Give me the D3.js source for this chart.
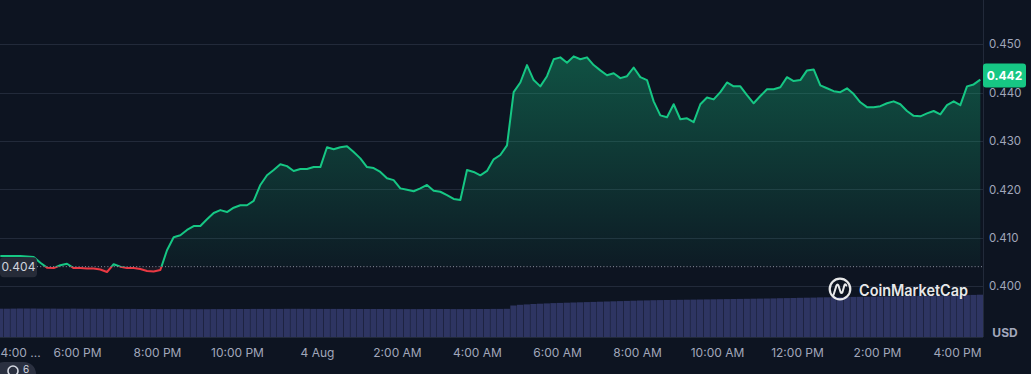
<!DOCTYPE html>
<html>
<head>
<meta charset="utf-8">
<script src="https://cdn.jsdelivr.net/npm/d3@7"></script>
<style>
  html, body { margin: 0; padding: 0; background: #0d1421; }
  svg { display: block; font-family: Inter, "Noto Sans", sans-serif; }
</style>
</head>
<body>
<svg id="chart" width="1031" height="374"></svg>
<script>
// ---------- data ----------
const startTime = new Date(2023, 7, 3, 16, 5);   // first sample, 4:05 PM 3 Aug
const stepMinutes = 10;                           // sampling step of the series
const prices = [
  0.4062, 0.4062, 0.4062, 0.4062, 0.4061, 0.4060, 0.4048, 0.4038, 0.4037, 0.4043,
  0.4046, 0.4037, 0.4037, 0.4036, 0.4036, 0.4034, 0.4029, 0.4045, 0.4040, 0.4037,
  0.4037, 0.4035, 0.4031, 0.4030, 0.4033, 0.4074, 0.4101, 0.4105, 0.4116, 0.4124,
  0.4124, 0.4138, 0.4151, 0.4157, 0.4153, 0.4162, 0.4167, 0.4167, 0.4176, 0.4209,
  0.4229, 0.4240, 0.4252, 0.4248, 0.4238, 0.4242, 0.4242, 0.4246, 0.4246, 0.4287,
  0.4283, 0.4287, 0.4289, 0.4277, 0.4264, 0.4246, 0.4244, 0.4236, 0.4223, 0.4219,
  0.4202, 0.4199, 0.4196, 0.4202, 0.4209, 0.4197, 0.4195, 0.4188, 0.4180, 0.4178,
  0.4240, 0.4236, 0.4229, 0.4238, 0.4262, 0.4271, 0.4291, 0.4401, 0.4421, 0.4457,
  0.4426, 0.4413, 0.4434, 0.4469, 0.4473, 0.4462, 0.4475, 0.4469, 0.4473, 0.4457,
  0.4446, 0.4436, 0.4440, 0.4430, 0.4434, 0.4452, 0.4432, 0.4426, 0.4382, 0.4353,
  0.4349, 0.4376, 0.4345, 0.4347, 0.4339, 0.4376, 0.4390, 0.4386, 0.4401, 0.4421,
  0.4413, 0.4413, 0.4395, 0.4378, 0.4393, 0.4407, 0.4407, 0.4411, 0.4432, 0.4424,
  0.4426, 0.4446, 0.4448, 0.4415, 0.4409, 0.4403, 0.4401, 0.4409, 0.4397, 0.4380,
  0.4370, 0.4370, 0.4372, 0.4378, 0.4382, 0.4376, 0.4362, 0.4352, 0.4351, 0.4357,
  0.4362, 0.4355, 0.4374, 0.4382, 0.4374, 0.4413, 0.4417, 0.4427
];
const volumes = [   // rolling volume, millions USD
  283, 283, 284, 285, 285, 285, 284, 284, 284, 283,
  283, 284, 283, 283, 282, 282, 282, 281, 281, 281,
  281, 280, 280, 280, 279, 279, 279, 279, 278, 278,
  278, 278, 279, 279, 279, 280, 280, 280, 281, 281,
  281, 281, 281, 282, 282, 282, 282, 281, 281, 281,
  281, 281, 281, 280, 280, 280, 280, 280, 280, 279,
  279, 279, 279, 279, 280, 280, 280, 280, 279, 279,
  279, 280, 280, 280, 281, 281, 282, 315, 322, 326,
  330, 333, 336, 339, 341, 343, 345, 347, 349, 351,
  353, 355, 357, 359, 361, 363, 365, 366, 368, 369,
  370, 371, 372, 373, 374, 375, 376, 377, 378, 379,
  380, 381, 382, 383, 384, 385, 386, 388, 389, 390,
  392, 393, 394, 396, 397, 398, 399, 400, 401, 402,
  403, 404, 405, 406, 407, 408, 409, 410, 411, 412,
  413, 414, 415, 416, 418, 419, 421, 423
];
const openPrice = 0.404;
const openLabel = "0.404";
const lastLabel = "0.442";
const yTicks = [0.400, 0.410, 0.420, 0.430, 0.440, 0.450];
const axisStart = new Date(2023, 7, 3, 16, 0);
const axisEnd = new Date(2023, 7, 4, 16, 0);

// ---------- build ----------
const times = prices.map((_, i) => new Date(startTime.getTime() + i * stepMinutes * 60000));
const data = prices.map((p, i) => ({ t: times[i], p: p, v: volumes[i] }));

const W = 1031, H = 374;
const plotRight = 983;
const volBottom = 337;
const green = "#16c784", red = "#ea3943";
const gridColor = "#222a3a";
const labelColor = "#a1a7bb";

const svg = d3.select("#chart");
svg.append("rect").attr("width", W).attr("height", H).attr("fill", "#0d1421");

const x = d3.scaleTime().domain([axisStart, axisEnd]).range([-3, 957]);
const y = d3.scaleLinear().domain([0.400, 0.450]).range([286, 44.3]);
const yv = d3.scaleLinear().domain([0, 500]).range([volBottom, 287]);

const defs = svg.append("defs");
defs.append("clipPath").attr("id", "plotClip")
  .append("rect").attr("x", 0).attr("y", 0).attr("width", plotRight).attr("height", volBottom);
defs.append("clipPath").attr("id", "aboveClip")
  .append("rect").attr("x", 0).attr("y", 0).attr("width", plotRight).attr("height", y(openPrice));
defs.append("clipPath").attr("id", "belowClip")
  .append("rect").attr("x", 0).attr("y", y(openPrice)).attr("width", plotRight).attr("height", volBottom - y(openPrice));

const gGrad = defs.append("linearGradient").attr("id", "gFill")
  .attr("gradientUnits", "userSpaceOnUse").attr("x1", 0).attr("x2", 0)
  .attr("y1", y(0.450)).attr("y2", y(openPrice));
gGrad.append("stop").attr("offset", 0).attr("stop-color", green).attr("stop-opacity", 0.36);
gGrad.append("stop").attr("offset", 1).attr("stop-color", green).attr("stop-opacity", 0.04);
const rGrad = defs.append("linearGradient").attr("id", "rFill")
  .attr("gradientUnits", "userSpaceOnUse").attr("x1", 0).attr("x2", 0)
  .attr("y1", y(openPrice)).attr("y2", y(0.400));
rGrad.append("stop").attr("offset", 0).attr("stop-color", red).attr("stop-opacity", 0.05);
rGrad.append("stop").attr("offset", 1).attr("stop-color", red).attr("stop-opacity", 0.2);

// gridlines
svg.append("g").selectAll("line").data(yTicks).join("line")
  .attr("x1", 0).attr("x2", plotRight)
  .attr("y1", d => Math.round(y(d)) + 0.5).attr("y2", d => Math.round(y(d)) + 0.5)
  .attr("stroke", gridColor).attr("stroke-width", 1);
// right border & bottom line
svg.append("line").attr("x1", plotRight + 0.5).attr("x2", plotRight + 0.5)
  .attr("y1", 0).attr("y2", volBottom).attr("stroke", gridColor);
svg.append("line").attr("x1", 0).attr("x2", plotRight)
  .attr("y1", volBottom + 0.5).attr("y2", volBottom + 0.5).attr("stroke", gridColor);

// volume bars
const stepPx = x(times[1]) - x(times[0]);
const volG = svg.append("g").attr("clip-path", "url(#plotClip)");
volG.selectAll("rect").data(data).join("rect")
  .attr("x", d => x(d.t) - stepPx / 2)
  .attr("width", stepPx - 0.4)
  .attr("y", d => yv(d.v))
  .attr("height", d => volBottom - yv(d.v))
  .attr("fill", "#2e3562");

// area fills
const area = d3.area().x(d => x(d.t)).y0(y(openPrice)).y1(d => y(d.p)).curve(d3.curveLinear);
const plotG = svg.append("g").attr("clip-path", "url(#plotClip)");
plotG.append("path").datum(data).attr("d", area).attr("fill", "url(#gFill)").attr("clip-path", "url(#aboveClip)");
plotG.append("path").datum(data).attr("d", area).attr("fill", "url(#rFill)").attr("clip-path", "url(#belowClip)");

// opening price dotted line
svg.append("line").attr("x1", 37).attr("x2", plotRight)
  .attr("y1", y(openPrice)).attr("y2", y(openPrice))
  .attr("stroke", "#8a90a0").attr("stroke-width", 1).attr("stroke-dasharray", "1,2.2");

// price lines
const line = d3.line().x(d => x(d.t)).y(d => y(d.p)).curve(d3.curveLinear);
plotG.append("path").datum(data).attr("d", line).attr("fill", "none")
  .attr("stroke", green).attr("stroke-width", 2).attr("stroke-linejoin", "round")
  .attr("clip-path", "url(#aboveClip)");
plotG.append("path").datum(data).attr("d", line).attr("fill", "none")
  .attr("stroke", red).attr("stroke-width", 2).attr("stroke-linejoin", "round")
  .attr("clip-path", "url(#belowClip)");

// watermark
const wm = svg.append("g").attr("opacity", 0.9);
wm.append("circle").attr("cx", 840).attr("cy", 289).attr("r", 10.3)
  .attr("fill", "none").attr("stroke", "#ffffff").attr("stroke-width", 2.2);
wm.append("path").attr("d", "M833.5,295 L836.5,285.5 Q837.5,283.5 838.5,285.5 L840.5,292 Q841.5,294 842.5,292 L844.5,285 Q845.5,283.5 846.3,285.5")
  .attr("fill", "none").attr("stroke", "#ffffff").attr("stroke-width", 2).attr("stroke-linecap", "round");
wm.append("text").attr("x", 859).attr("y", 290).attr("dy", "0.36em")
  .attr("fill", "#ffffff").attr("font-size", 15.5).attr("font-weight", 600)
  .attr("textLength", 109).attr("lengthAdjust", "spacingAndGlyphs")
  .text("CoinMarketCap");

// y axis
const yAxis = d3.axisRight(y).tickValues(yTicks).tickFormat(d3.format(".3f")).tickSize(0).tickPadding(6);
const yg = svg.append("g").attr("transform", `translate(${plotRight},0)`).call(yAxis);
yg.select(".domain").remove();
yg.selectAll("text").attr("fill", labelColor).attr("font-size", 11.5).attr("font-family", "Inter, sans-serif");
svg.append("text").attr("x", 1005).attr("y", 333).attr("dy", "0.36em").attr("text-anchor", "middle")
  .attr("fill", labelColor).attr("font-size", 12).attr("font-weight", 700).text("USD");

// x axis
const fmt = d => (d.getHours() === 0 ? d3.timeFormat("%-d %b")(d) : d3.timeFormat("%-I:%M %p")(d));
const xAxis = d3.axisBottom(x).ticks(d3.timeHour.every(2)).tickFormat(fmt).tickSize(0).tickPadding(11);
const xg = svg.append("g").attr("transform", `translate(0,${volBottom})`).call(xAxis);
xg.select(".domain").remove();
xg.selectAll("text").attr("fill", labelColor).attr("font-size", 12).attr("font-family", "Inter, sans-serif");
xg.selectAll(".tick").filter(d => x(d) < 10).select("text")
  .attr("text-anchor", "start").attr("x", 3 - x(axisStart) - 3).text(d => fmt(d).split(" ")[0] + " ...");

// opening price label
svg.append("rect").attr("x", 0).attr("y", y(openPrice) - 9.5).attr("width", 37).attr("height", 20).attr("rx", 4)
  .attr("fill", "#262b38");
svg.append("text").attr("x", 18.5).attr("y", y(openPrice) + 0.5).attr("dy", "0.36em").attr("text-anchor", "middle")
  .attr("fill", "#cfd3dc").attr("font-size", 12).text(openLabel);

// last price label
const lastY = y(prices[prices.length - 1]) - 4;
svg.append("rect").attr("x", plotRight).attr("y", lastY - 12).attr("width", 43).attr("height", 24).attr("rx", 3)
  .attr("fill", green);
svg.append("text").attr("x", plotRight + 21.5).attr("y", lastY).attr("dy", "0.36em").attr("text-anchor", "middle")
  .attr("fill", "#ffffff").attr("font-size", 12).attr("font-weight", 700).text(lastLabel);

// bottom-left badge (partially visible, as in the reference)
svg.append("rect").attr("x", -8).attr("y", 362).attr("width", 44).attr("height", 24).attr("rx", 12).attr("fill", "#2a3040");
svg.append("circle").attr("cx", 13).attr("cy", 371).attr("r", 5).attr("fill", "none").attr("stroke", "#d5d9e2").attr("stroke-width", 1.6);
svg.append("text").attr("x", 23).attr("y", 369).attr("dy", "0.36em").attr("fill", "#d5d9e2").attr("font-size", 10).text("6");
</script>
</body>
</html>
